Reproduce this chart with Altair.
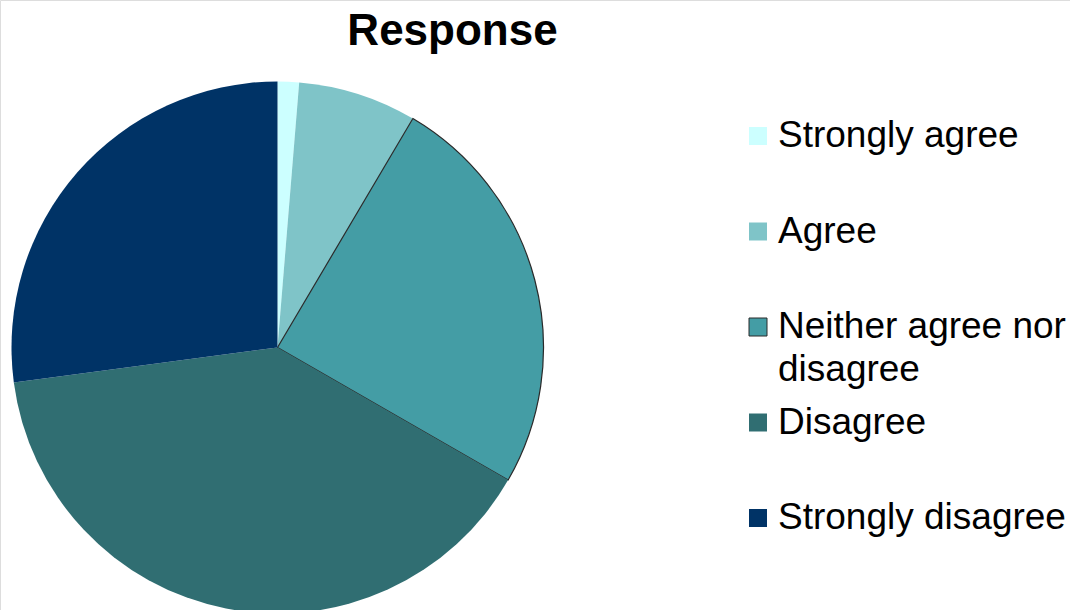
import altair as alt
import pandas as pd

categories = ["Strongly agree", "Agree", "Neither agree nor disagree", "Disagree", "Strongly disagree"]
values = [1.3, 7.2, 24.8, 39.6, 27.1]
colors = ["#CCFFFF", "#7FC4C8", "#449DA5", "#306E72", "#003366"]
label_line1 = ["Strongly agree", "Agree", "Neither agree nor", "Disagree", "Strongly disagree"]
label_line2 = ["", "", "disagree", "", ""]
title_text = "Response"

df = pd.DataFrame({
    "category": categories,
    "value": values,
    "order": list(range(len(categories))),
    "line1": label_line1,
    "line2": label_line2,
})

color_scale = alt.Scale(domain=categories, range=colors)
legend_y = alt.Scale(type="point", domain=categories, range=[136, 518], padding=0)
FONT = "Liberation Sans"

pie = alt.Chart(df).mark_arc(radius=266, stroke="#2a2a2a").encode(
    theta=alt.Theta("value:Q", stack=True),
    order=alt.Order("order:Q"),
    color=alt.Color("category:N", scale=color_scale, legend=None),
    strokeWidth=alt.condition(alt.datum.category == "Neither agree nor disagree", alt.value(1.2), alt.value(0)),
    x=alt.value(277.5),
    y=alt.value(347.5),
)

squares = alt.Chart(df).mark_square(size=324, strokeWidth=1, opacity=1, filled=True).encode(
    x=alt.value(758),
    y=alt.Y("category:N", scale=legend_y, axis=None),
    color=alt.Color("category:N", scale=color_scale, legend=None),
    stroke=alt.condition(alt.datum.category == "Neither agree nor disagree", alt.value("#2a2a2a"), alt.value(None)),
)

text1 = alt.Chart(df).mark_text(align="left", baseline="middle", font=FONT, fontSize=37, color="black").encode(
    x=alt.value(778),
    y=alt.Y("category:N", scale=legend_y, axis=None),
    text="line1:N",
)

text2 = alt.Chart(df).mark_text(align="left", baseline="middle", font=FONT, fontSize=37, color="black", dy=43).encode(
    x=alt.value(778),
    y=alt.Y("category:N", scale=legend_y, axis=None),
    text="line2:N",
)

title = alt.Chart(pd.DataFrame({"t": [title_text]})).mark_text(
    align="center", baseline="middle", font=FONT, fontSize=44, fontWeight="bold", color="black"
).encode(x=alt.value(452.5), y=alt.value(32), text="t:N")

chart = alt.layer(pie, squares, text1, text2, title).properties(
    width=1070, height=610, autosize=alt.AutoSizeParams(type="none"), padding=0
).configure_view(stroke=None, strokeWidth=0).configure(background="white")

chart.save("out.html", embed_options={"renderer": "svg", "actions": False})
